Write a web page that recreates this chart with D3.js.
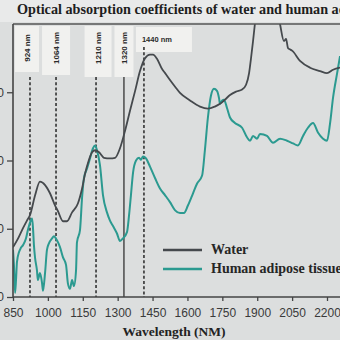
<!DOCTYPE html>
<html><head><meta charset="utf-8">
<script src="https://cdn.jsdelivr.net/npm/d3@7/dist/d3.min.js"></script>
<style>html,body{margin:0;padding:0;background:#dcdede;}svg{display:block;}</style>
</head><body><svg id="c" width="340" height="340"></svg>
<script>
// ---- data ----
const titleText = "Optical absorption coefficients of water and human adipose tissue";
const xTicks = [850, 1000, 1150, 1300, 1450, 1600, 1750, 1900, 2050, 2200];
const yTicks = [0, 1, 2, 3];
const yTickLabels = ["0", "1.0", "2.0", "3.0"];
const waterWl = [850,872,893,910,923,945,966,988,1009,1031,1043,1065,1082,1104,1129,1147,1160,1172,1190,1203,1220,1241,1267,1289,1310,1332,1353,1375,1396,1418,1439,1452,1469,1491,1504,1525,1547,1568,1611,1654,1688,1718,1740,1761,1783,1809,1835,1852,1865,1873,1882,1890,1942,1998,2015,2024,2032,2040,2050,2084,2127,2170,2200,2226,2256];
const waterVal = [0.73,0.86,1.01,1.12,1.20,1.49,1.69,1.64,1.52,1.34,1.26,1.11,1.11,1.24,1.37,1.59,1.81,1.96,2.12,2.15,2.12,2.04,2.03,2.04,2.18,2.44,2.73,3.02,3.31,3.50,3.55,3.55,3.49,3.34,3.28,3.18,3.08,2.99,2.88,2.79,2.76,2.79,2.83,2.89,2.96,3.01,3.04,3.11,3.28,3.49,3.75,4.00,5.20,4.00,3.75,3.78,3.65,3.63,3.61,3.46,3.36,3.31,3.28,3.33,3.36];
const adiposeWl = [850,854,859,863,867,876,884,893,906,914,923,932,936,940,945,953,957,966,975,979,988,996,1005,1018,1026,1039,1052,1065,1078,1086,1095,1104,1112,1121,1125,1138,1147,1155,1168,1181,1194,1203,1211,1224,1237,1254,1267,1280,1297,1310,1323,1340,1349,1357,1366,1379,1392,1400,1409,1422,1439,1461,1482,1504,1525,1547,1568,1585,1602,1624,1641,1663,1675,1688,1701,1714,1727,1736,1740,1749,1757,1770,1783,1804,1835,1856,1869,1882,1899,1912,1942,1968,1998,2028,2054,2075,2097,2118,2140,2161,2183,2200,2213,2226,2243,2256];
const adiposeVal = [0.69,0.47,0.06,0.25,0.51,0.66,0.72,0.76,0.86,0.98,1.09,1.15,1.01,0.76,0.57,0.39,0.25,0.35,0.20,0.09,0.36,0.69,0.79,0.86,0.89,0.83,0.73,0.58,0.47,0.20,0.12,0.25,0.16,0.39,0.80,0.98,1.46,1.74,1.88,2.03,2.18,2.22,2.15,1.93,1.49,1.24,1.12,1.04,0.93,0.82,0.86,0.95,1.20,1.49,1.82,2.00,2.04,2.01,2.06,2.03,1.91,1.74,1.59,1.49,1.39,1.27,1.23,1.23,1.34,1.52,1.66,1.78,2.15,2.63,2.95,3.05,3.02,2.91,2.83,2.88,2.89,2.77,2.63,2.55,2.48,2.34,2.29,2.36,2.32,2.39,2.36,2.26,2.32,2.29,2.25,2.22,2.36,2.48,2.55,2.41,2.32,2.29,2.54,2.92,3.27,3.53];
const markerLabels = ["924 nm", "1064 nm", "1210 nm", "1320 nm", "1440 nm"];
const markerWl = [923, 1035, 1207, 1327, 1413];
const markerStyle = ["dash", "dash", "dash", "solid", "dash"];
const seriesNames = ["Water", "Human adipose tissue"];
const xTitle = "Wavelength (NM)";

// ---- layout ----
const svg = d3.select("#c");
const L = 13, R = 340, T = 24, B = 297;
const x = d3.scaleLinear().domain([850, 2200]).range([L, 327]);
const y = d3.scaleLinear().domain([0, 4]).range([B, T]);
const waterColor = "#45494d", tealColor = "#2b9a90";

svg.append("rect").attr("width", 340).attr("height", 340).attr("fill", "#dcdede");
svg.append("rect").attr("width", 340).attr("height", T - 2).attr("fill", "#e9eaea");

svg.append("text").attr("x", 17).attr("y", 14)
  .attr("font-family", "Liberation Serif, serif").attr("font-weight", "bold")
  .attr("font-size", 14.2).attr("fill", "#1e1e1e").text(titleText);

svg.append("defs").append("clipPath").attr("id", "clip")
  .append("rect").attr("x", L).attr("y", T).attr("width", R - L).attr("height", B - T);

// label boxes
const boxW = [24, 28, 27, 19];
const boxBottom = [72, 75, 77, 77];
markerLabels.forEach((lab, i) => {
  const cx = x(markerWl[i]);
  if (i < 4) {
    svg.append("rect").attr("x", cx - boxW[i] / 2 - (i === 0 ? 3 : 0) + (i === 2 ? 2 : 0)).attr("y", T + 2)
      .attr("width", boxW[i]).attr("height", boxBottom[i] - T - 2).attr("fill", "#f1f1ef");
    svg.append("text")
      .attr("transform", `translate(${cx + 3 - (i === 0 ? 3 : 0) + (i === 2 ? 2 : 0)},48) rotate(-90)`)
      .attr("text-anchor", "middle").attr("font-family", "Liberation Sans, Arial, sans-serif")
      .attr("font-weight", "bold").attr("font-size", 8).attr("fill", "#2a2a2a").text(lab);
  } else {
    svg.append("rect").attr("x", cx - 8).attr("y", T + 3).attr("width", 56).attr("height", 25).attr("fill", "#f1f1ef");
    svg.append("text").attr("x", cx - 2).attr("y", 42)
      .attr("font-family", "Liberation Sans, Arial, sans-serif").attr("font-weight", "bold")
      .attr("font-size", 7.5).attr("fill", "#2a2a2a").text(lab);
  }
});

// marker lines
markerWl.forEach((w, i) => {
  const top = i === 4 ? 47 : 77;
  svg.append("line").attr("x1", x(w)).attr("x2", x(w)).attr("y1", top).attr("y2", B)
    .attr("stroke", "#333").attr("stroke-width", markerStyle[i] === "solid" ? 1.3 : 1.6)
    .attr("stroke-dasharray", markerStyle[i] === "solid" ? null : "3,2.2");
});

// curves
const line = d3.line().x(d => x(d[0])).y(d => y(d[1])).curve(d3.curveMonotoneX);
const g = svg.append("g").attr("clip-path", "url(#clip)");
g.append("path").datum(adiposeWl.map((w, i) => [w, adiposeVal[i]]))
  .attr("d", line).attr("fill", "none").attr("stroke", tealColor).attr("stroke-width", 2);
g.append("path").datum(waterWl.map((w, i) => [w, waterVal[i]]))
  .attr("d", line).attr("fill", "none").attr("stroke", waterColor).attr("stroke-width", 1.8);

// frame
svg.append("line").attr("x1", L).attr("x2", R).attr("y1", T).attr("y2", T).attr("stroke", "#555").attr("stroke-width", 1.5);

// axes
const xAxis = svg.append("g").attr("transform", `translate(0,${B})`)
  .call(d3.axisBottom(x).tickValues(xTicks).tickSize(4).tickSizeOuter(0).tickFormat(d3.format("d")));
xAxis.select(".domain").attr("stroke", "#444").attr("stroke-width", 1.6).attr("d", `M${L},0H${R}`);
xAxis.selectAll(".tick line").attr("stroke", "#444").attr("stroke-width", 1.3);
xAxis.selectAll(".tick text").attr("font-family", "Liberation Sans, Arial, sans-serif")
  .attr("font-size", 12).attr("fill", "#3a3a3a").attr("dy", 0).attr("y", 20);

const yAxis = svg.append("g").attr("transform", `translate(${L},0)`)
  .call(d3.axisLeft(y).tickValues(yTicks).tickSize(6).tickSizeOuter(0).tickFormat((d, i) => yTickLabels[i]));
yAxis.select(".domain").attr("stroke", "#444").attr("stroke-width", 1.6).attr("d", `M0,${T}V${B}`);
yAxis.selectAll(".tick line").attr("stroke", "#444").attr("stroke-width", 1.3);
yAxis.selectAll(".tick text").attr("font-family", "Liberation Sans, Arial, sans-serif")
  .attr("font-size", 12).attr("fill", "#3a3a3a").attr("x", -9);

svg.append("text").attr("x", 174).attr("y", 336).attr("text-anchor", "middle")
  .attr("font-family", "Liberation Serif, serif").attr("font-weight", "bold")
  .attr("font-size", 13.5).attr("fill", "#222").text(xTitle);

// legend
const legColors = [waterColor, tealColor];
const legY = [250, 269];
seriesNames.forEach((n, i) => {
  svg.append("line").attr("x1", 163).attr("x2", 202).attr("y1", legY[i]).attr("y2", legY[i])
    .attr("stroke", legColors[i]).attr("stroke-width", 2.6);
  svg.append("text").attr("x", 211).attr("y", legY[i] + 4)
    .attr("font-family", "Liberation Serif, serif").attr("font-weight", "bold")
    .attr("font-size", 14).attr("fill", "#262626").text(n);
});
</script></body></html>
